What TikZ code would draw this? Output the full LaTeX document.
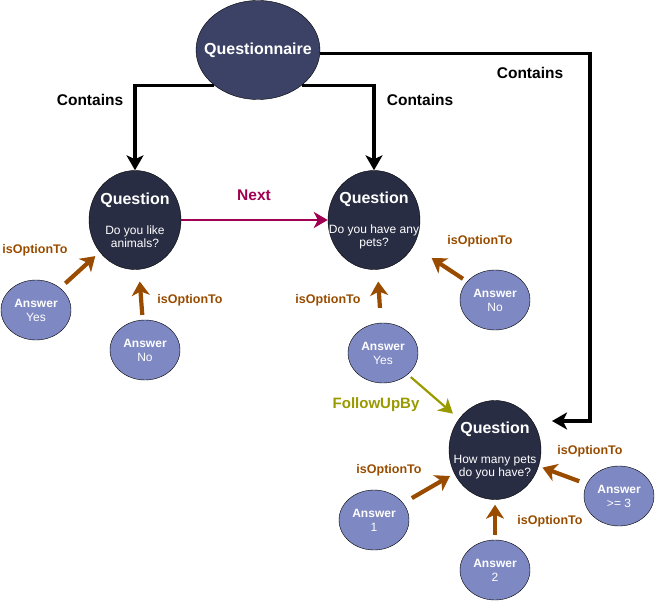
\documentclass[tikz,border=0pt]{standalone}
\usepackage{fontspec}
\setmainfont{Liberation Sans}
\usetikzlibrary{shapes.geometric,arrows.meta}
\definecolor{qnfill}{RGB}{59,66,102}
\definecolor{qfill}{RGB}{41,45,68}
\definecolor{afill}{RGB}{126,136,194}
\definecolor{optcol}{RGB}{153,76,0}
\definecolor{nextcol}{RGB}{160,0,82}
\definecolor{followcol}{RGB}{153,153,0}

\begin{document}
\begin{tikzpicture}[
        x=1pt, y=-1pt,
        qnbox/.style={ellipse, draw, fill=qnfill, text=white, minimum width=124pt, minimum height=99pt, inner xsep=-25pt, inner ysep=0pt, font=\fontsize{16}{19}\selectfont\bfseries},
        qbox/.style={ellipse, draw, fill=qfill, text=white, minimum width=92pt, minimum height=99pt, inner xsep=-20pt, inner ysep=0pt, align=center, font=\fontsize{12}{13}\selectfont},
        abox/.style={ellipse, draw, fill=afill, text=white, minimum width=70pt, minimum height=60pt, inner sep=0pt, align=center, font=\fontsize{12}{14}\selectfont},
        lbl/.style={font=\fontsize{15.5}{18}\selectfont\bfseries},
        optlbl/.style={font=\fontsize{12.5}{15}\selectfont\bfseries, text=optcol},
        contains/.style={-{Stealth[length=15pt,width=17pt,inset=4pt]}, line width=3.2pt},
        option/.style={-{Stealth[length=14pt,width=18pt,inset=4pt]}, line width=4.2pt, optcol},
        nextarrow/.style={-{Stealth[length=14pt,width=16pt,inset=4pt]}, line width=2.2pt, nextcol},
        follow/.style={-{Stealth[length=14pt,width=16pt,inset=4pt]}, line width=2.2pt, followcol}
    ]
        \useasboundingbox (0,0) rectangle (655,601);

        % Questionnaire and its questions
        \node[qnbox] (qn) at (258,50) {Questionnaire};
        \node[qbox] (q1) at (135,220) {{\fontsize{16}{19}\selectfont\bfseries Question}\\[17pt]Do you like\\animals?};
        \node[qbox] (q2) at (374,220) {{\fontsize{16}{19}\selectfont\bfseries Question}\\[17pt]Do you have any\\pets?};
        \node[qbox] (q3) at (495,450) {{\fontsize{16}{19}\selectfont\bfseries Question}\\[17pt]How many pets\\do you have?};

        % Answers
        \node[abox] (ay1) at (36,310) {\textbf{Answer}\\Yes};
        \node[abox] (an1) at (145,350) {\textbf{Answer}\\No};
        \node[abox] (ay2) at (383,353) {\textbf{Answer}\\Yes};
        \node[abox] (an2) at (495,300) {\textbf{Answer}\\No};
        \node[abox] (a1) at (374,520) {\textbf{Answer}\\1};
        \node[abox] (a2) at (495,570) {\textbf{Answer}\\2};
        \node[abox] (a3) at (619,496) {\textbf{Answer}\\>= 3};

        % Contains arrows
        \coordinate (turn) at (590,421);
        \coordinate (q3in) at (552,421);
        \draw[contains] (qn.south west) -| (q1.north);
        \draw[contains] (qn.south east) -| (q2.north);
        \draw[contains] (qn.-3) -| (turn) -- (q3in);

        % Next and follow-up
        \draw[nextarrow] (q1) -- (q2);
        \draw[follow, shorten <=4pt, shorten >=8pt] (ay2) -- (q3);

        % Option arrows
        \draw[option, shorten <=7pt, shorten >=6pt] (ay1) -- (q1);
        \draw[option, shorten <=5pt, shorten >=12pt] (an1) -- (q1);
        \draw[option, shorten <=15pt, shorten >=12pt] (ay2) -- (q2);
        \draw[option, shorten <=5pt, shorten >=22pt] (an2) -- (q2);
        \draw[option, shorten <=10pt, shorten >=5pt] (a1) -- (q3);
        \draw[option, shorten <=5pt, shorten >=5pt] (a2) -- (q3);
        \draw[option, shorten <=8pt, shorten >=4pt] (a3) -- (q3);

        % Labels
        \node[lbl] (lcont1) at (90,100) {Contains};
        \node[lbl] (lcont2) at (420,100) {Contains};
        \node[lbl] (lcont3) at (530,73) {Contains};
        \node[lbl, text=nextcol] (lnext) at (254,195) {Next};
        \node[lbl, text=followcol, font=\fontsize{15}{18}\selectfont\bfseries] (lfollow) at (376,405) {FollowUpBy};
        \node[optlbl] (lopt1) at (35,250) {isOptionTo};
        \node[optlbl] (lopt2) at (190,300) {isOptionTo};
        \node[optlbl] (lopt3) at (328,300) {isOptionTo};
        \node[optlbl] (lopt4) at (480,241) {isOptionTo};
        \node[optlbl] (lopt5) at (389,470) {isOptionTo};
        \node[optlbl] (lopt6) at (550,521) {isOptionTo};
        \node[optlbl] (lopt7) at (590,451) {isOptionTo};
    \end{tikzpicture}
\end{document}
